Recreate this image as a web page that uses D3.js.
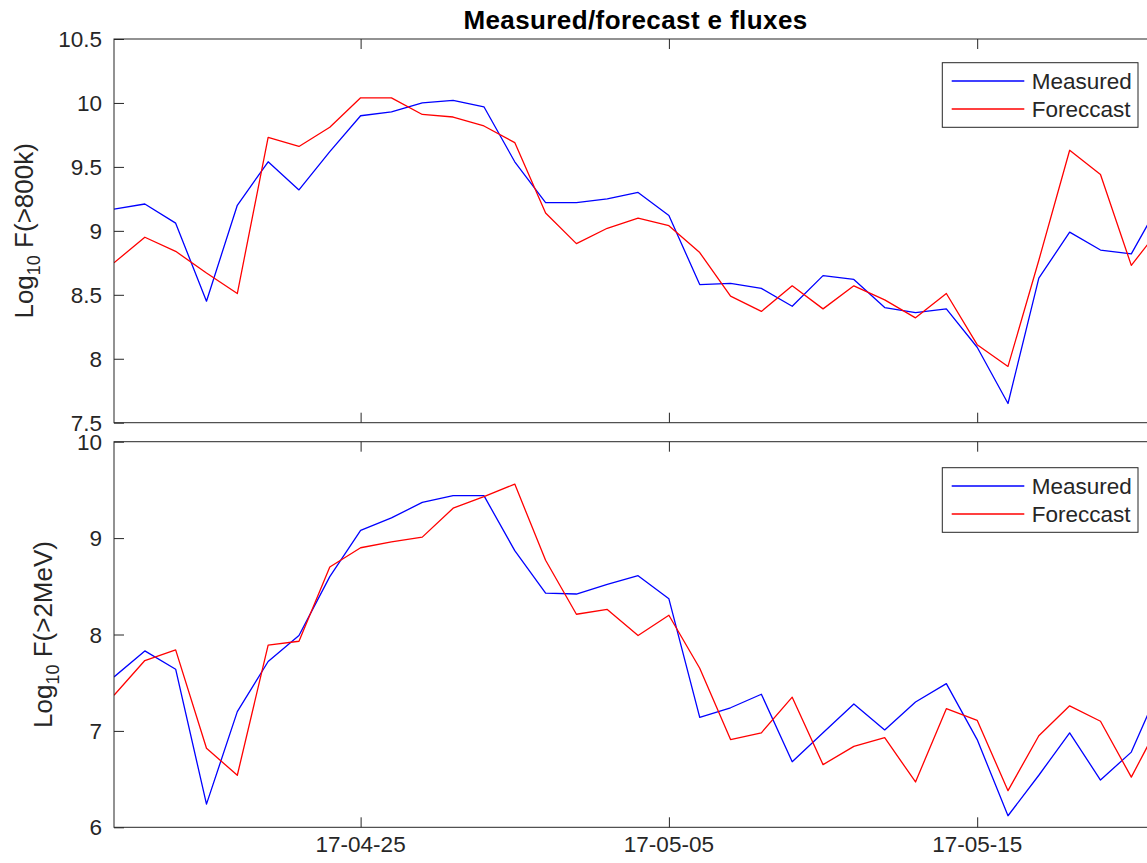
<!DOCTYPE html>
<html>
<head>
<meta charset="utf-8">
<script src="https://cdn.jsdelivr.net/npm/d3@7"></script>
<style>
  body { margin: 0; background: #fff; }
  svg { display: block; }
  text { font-family: "Liberation Sans", Arial, Helvetica, sans-serif; fill: #262626; }
</style>
</head>
<body>
<svg id="chart" width="1147" height="863"></svg>
<script>
// Daily samples (UTC midnight)
const dates = [
  "2017-04-17","2017-04-18","2017-04-19","2017-04-20","2017-04-21","2017-04-22","2017-04-23",
  "2017-04-24","2017-04-25","2017-04-26","2017-04-27","2017-04-28","2017-04-29","2017-04-30",
  "2017-05-01","2017-05-02","2017-05-03","2017-05-04","2017-05-05","2017-05-06","2017-05-07",
  "2017-05-08","2017-05-09","2017-05-10","2017-05-11","2017-05-12","2017-05-13","2017-05-14",
  "2017-05-15","2017-05-16","2017-05-17","2017-05-18","2017-05-19","2017-05-20","2017-05-21"
];

// log10 flux, >800 keV electrons
const measured800k = [
  9.17, 9.21, 9.06, 8.45, 9.20, 9.54, 9.32, 9.62, 9.90, 9.93, 10.00, 10.02, 9.97, 9.54,
  9.22, 9.22, 9.25, 9.30, 9.12, 8.58, 8.59, 8.55, 8.41, 8.65, 8.62, 8.40, 8.36, 8.39,
  8.09, 7.65, 8.63, 8.99, 8.85, 8.82, 9.25
];
const forecast800k = [
  8.75, 8.95, 8.84, 8.67, 8.51, 9.73, 9.66, 9.81, 10.04, 10.04, 9.91, 9.89, 9.82, 9.69,
  9.14, 8.90, 9.02, 9.10, 9.04, 8.83, 8.49, 8.37, 8.57, 8.39, 8.57, 8.46, 8.32, 8.51,
  8.11, 7.94, 8.77, 9.63, 9.44, 8.73, 9.04
];

// log10 flux, >2 MeV electrons
const measured2MeV = [
  7.56, 7.83, 7.64, 6.24, 7.20, 7.72, 7.99, 8.60, 9.08, 9.21, 9.37, 9.44, 9.44, 8.87,
  8.43, 8.42, 8.52, 8.61, 8.37, 7.14, 7.24, 7.38, 6.68, 6.98, 7.28, 7.01, 7.30, 7.49,
  6.91, 6.12, 6.54, 6.98, 6.49, 6.78, 7.51
];
const forecast2MeV = [
  7.37, 7.73, 7.84, 6.82, 6.54, 7.89, 7.93, 8.70, 8.90, 8.96, 9.01, 9.31, 9.43, 9.56,
  8.77, 8.21, 8.26, 7.99, 8.20, 7.65, 6.91, 6.98, 7.35, 6.65, 6.84, 6.93, 6.47, 7.23,
  7.11, 6.38, 6.95, 7.26, 7.10, 6.52, 7.13
];

const xTickDates = ["2017-04-25", "2017-05-05", "2017-05-15"];
const ticks800k = [7.5, 8, 8.5, 9, 9.5, 10, 10.5];
const ticks2MeV = [6, 7, 8, 9, 10];
const seriesNames = ["Measured", "Foreccast"];
const seriesColors = ["#0000ff", "#ff0000"];

const parse = d3.utcParse("%Y-%m-%d");
const fmt = d3.utcFormat("%y-%m-%d");
const t = dates.map(parse);

const svg = d3.select("#chart");

const plotLeft = 114, plotRight = 1157;
const x = d3.scaleUtc()
  .domain([parse("2017-04-17"), new Date(Date.UTC(2017, 4, 20, 20))])
  .range([plotLeft, plotRight]);

const panels = [
  { top: 39, bottom: 422.7, domain: [7.5, 10.5], ticks: ticks800k, label: "F(>800k)",
    labelX: 33, data: [measured800k, forecast800k], legendTop: 62.7, xLabels: false },
  { top: 441.7, bottom: 827.3, domain: [6, 10], ticks: ticks2MeV, label: "F(>2MeV)",
    labelX: 52, data: [measured2MeV, forecast2MeV], legendTop: 467.7, xLabels: true }
];

const axisColor = "#262626";
const tickLen = 10;

panels.forEach((p, pi) => {
  const y = d3.scaleLinear().domain(p.domain).range([p.bottom, p.top]);
  const g = svg.append("g");

  const clipId = "clip" + pi;
  svg.append("clipPath").attr("id", clipId)
    .append("rect")
    .attr("x", plotLeft).attr("y", p.top)
    .attr("width", plotRight - plotLeft).attr("height", p.bottom - p.top);

  // data lines
  const line = d3.line().x((d, i) => x(t[i])).y(d => y(d));
  p.data.forEach((vals, si) => {
    g.append("path")
      .datum(vals)
      .attr("clip-path", `url(#${clipId})`)
      .attr("fill", "none")
      .attr("stroke", seriesColors[si])
      .attr("stroke-width", 1.3)
      .attr("stroke-linejoin", "round")
      .attr("d", line);
  });

  // axes: inward ticks on all sides
  const yAxisL = d3.axisRight(y).tickValues(p.ticks).tickSize(tickLen).tickFormat("");
  g.append("g").attr("transform", `translate(${plotLeft},0)`).call(yAxisL);
  const yAxisR = d3.axisLeft(y).tickValues(p.ticks).tickSize(tickLen).tickFormat("");
  g.append("g").attr("transform", `translate(${plotRight},0)`).call(yAxisR);
  const xAxisB = d3.axisTop(x).tickValues(xTickDates.map(parse)).tickSize(tickLen).tickFormat("");
  g.append("g").attr("transform", `translate(0,${p.bottom})`).call(xAxisB);
  const xAxisT = d3.axisBottom(x).tickValues(xTickDates.map(parse)).tickSize(tickLen).tickFormat("");
  g.append("g").attr("transform", `translate(0,${p.top})`).call(xAxisT);
  g.selectAll(".domain").remove();
  g.selectAll(".tick line").attr("stroke", axisColor);

  // box
  g.append("rect")
    .attr("x", plotLeft).attr("y", p.top)
    .attr("width", plotRight - plotLeft).attr("height", p.bottom - p.top)
    .attr("fill", "none").attr("stroke", axisColor).attr("stroke-width", 1);

  // y tick labels
  g.selectAll(".ylab").data(p.ticks).join("text")
    .attr("x", plotLeft - 12)
    .attr("y", d => y(d) + 8)
    .attr("text-anchor", "end")
    .attr("font-size", 22.5)
    .text(d => String(d));

  // x tick labels
  if (p.xLabels) {
    g.selectAll(".xlab").data(xTickDates.map(parse)).join("text")
      .attr("x", d => x(d))
      .attr("y", p.bottom + 25)
      .attr("text-anchor", "middle")
      .attr("font-size", 22.5)
      .text(d => fmt(d));
  }

  // y axis label
  const cy = (p.top + p.bottom) / 2;
  const lab = g.append("text")
    .attr("transform", `translate(${p.labelX},${cy}) rotate(-90)`)
    .attr("text-anchor", "middle")
    .attr("font-size", 26);
  lab.append("tspan").text("Log");
  lab.append("tspan").attr("font-size", 18).attr("dy", 7).text("10");
  lab.append("tspan").attr("dy", -7).text(" " + p.label);

  // legend
  const lg = g.append("g");
  lg.append("rect")
    .attr("x", 942.3).attr("y", p.legendTop)
    .attr("width", 195.7).attr("height", 64.6)
    .attr("fill", "#fff").attr("stroke", axisColor).attr("stroke-width", 1);
  seriesNames.forEach((name, si) => {
    const ly = p.legendTop + 18.3 + si * 28;
    lg.append("line")
      .attr("x1", 951.7).attr("x2", 1024.3)
      .attr("y1", ly).attr("y2", ly)
      .attr("stroke", seriesColors[si]).attr("stroke-width", 1.3);
    lg.append("text")
      .attr("x", 1031.7).attr("y", ly + 8)
      .attr("font-size", 22.5)
      .attr("fill", "#000")
      .text(name);
  });
});

// title
svg.append("text")
  .attr("x", 635.5).attr("y", 29)
  .attr("text-anchor", "middle")
  .attr("font-size", 26)
  .attr("font-weight", "bold")
  .attr("letter-spacing", 0.4)
  .style("fill", "#000")
  .text("Measured/forecast e fluxes");
</script>
</body>
</html>
